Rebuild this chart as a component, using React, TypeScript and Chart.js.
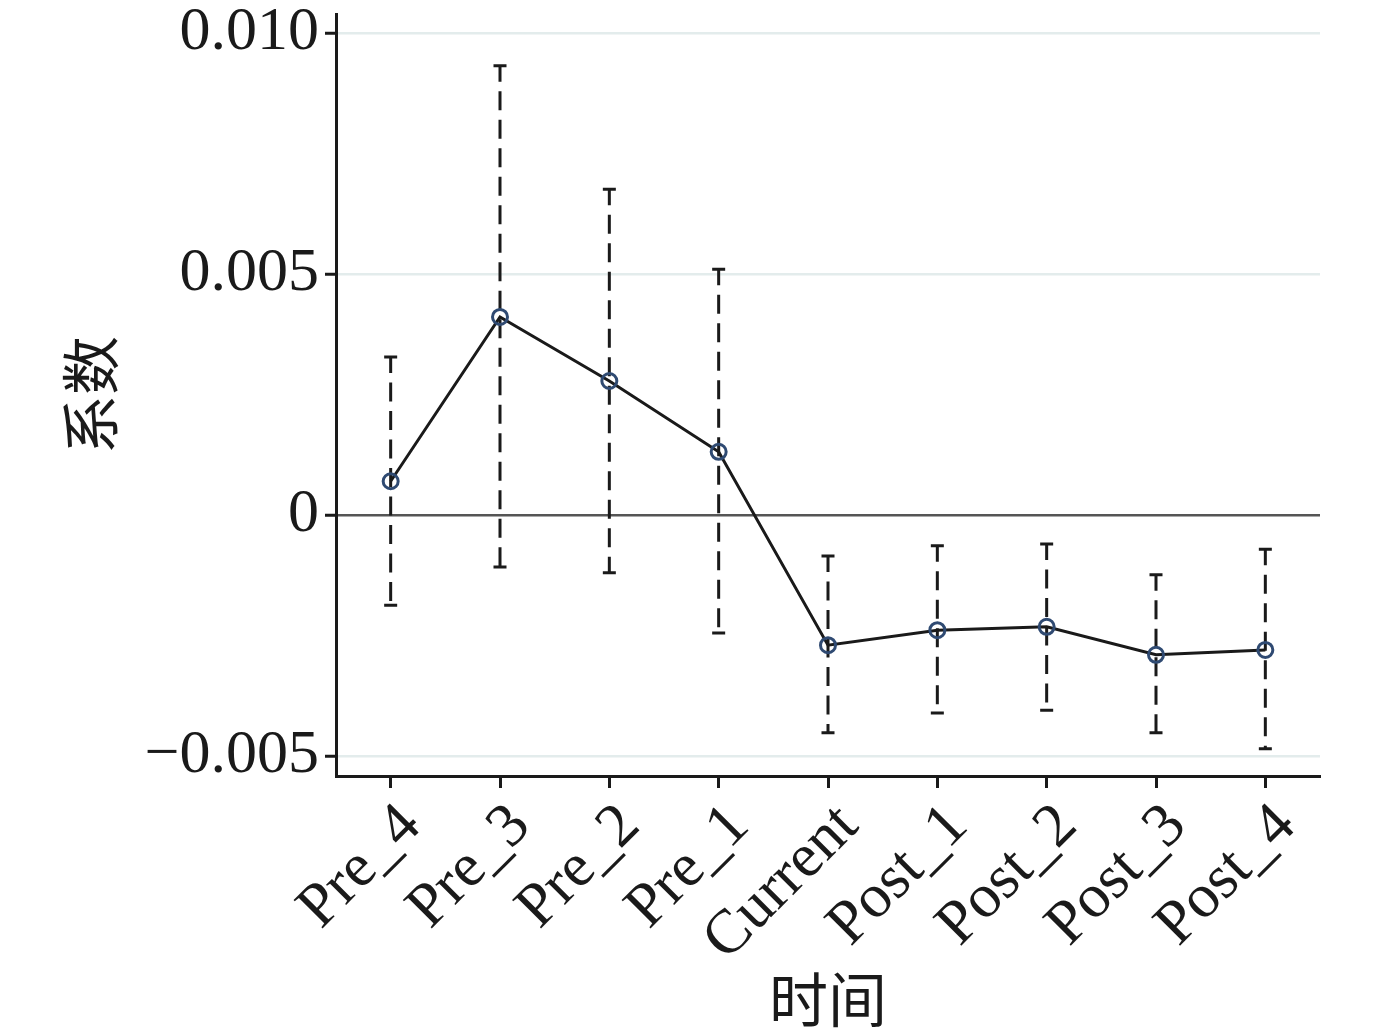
import React, { useEffect, useRef } from "react";
import { Chart, registerables } from "chart.js";

Chart.register(...registerables);

const categories = ["Pre_4", "Pre_3", "Pre_2", "Pre_1", "Current", "Post_1", "Post_2", "Post_3", "Post_4"];
const coefficients = [0.0007, 0.00411, 0.00278, 0.00131, -0.0027, -0.00239, -0.00232, -0.0029, -0.0028];
const upperCI = [0.00328, 0.00932, 0.00676, 0.0051, -0.00085, -0.00064, -0.0006, -0.00124, -0.00071];
const lowerCI = [-0.00187, -0.00108, -0.0012, -0.00245, -0.00452, -0.00411, -0.00405, -0.00452, -0.00485];
const yTickValues = [-0.005, 0, 0.005, 0.01];
const yTickLabels = ["\u22120.005", "0", "0.005", "0.010"];

const SERIF = "'Liberation Serif', 'Times New Roman', serif";
const CJK = "'Noto Sans CJK SC', sans-serif";

const errorBarPlugin = {
  id: "errorBars",
  beforeDatasetsDraw(chart: any) {
    const ctx = chart.ctx;
    const xs = chart.scales.x;
    const ys = chart.scales.y;
    ctx.save();
    ctx.strokeStyle = "#1a1a1a";
    ctx.lineWidth = 3;
    ctx.lineCap = "butt";
    for (let i = 0; i < categories.length; i++) {
      const x = xs.getPixelForValue(i);
      const yHi = ys.getPixelForValue(upperCI[i]);
      const yLo = ys.getPixelForValue(lowerCI[i]);
      ctx.setLineDash([19, 9.5]);
      ctx.lineDashOffset = 3;
      ctx.beginPath();
      ctx.moveTo(x, yHi);
      ctx.lineTo(x, yLo);
      ctx.stroke();
      ctx.setLineDash([]);
      ctx.beginPath();
      ctx.moveTo(x - 6.5, yHi);
      ctx.lineTo(x + 6.5, yHi);
      ctx.moveTo(x - 6.5, yLo);
      ctx.lineTo(x + 6.5, yLo);
      ctx.stroke();
    }
    ctx.restore();
  },
};

export default function App() {
  const ref = useRef<HTMLCanvasElement>(null);
  useEffect(() => {
    document.body.style.margin = "0";
    let chart: any = null;
    let cancelled = false;
    const build = () => {
      if (cancelled) return;
      const canvas = ref.current!;
      chart = new Chart(canvas, {
        type: "line",
        data: {
          labels: categories,
          datasets: [
            {
              data: coefficients,
              borderColor: "#1a1a1a",
              borderWidth: 3,
              pointRadius: 7.5,
              pointHoverRadius: 7.5,
              pointBorderWidth: 3,
              pointBorderColor: "#2f4a72",
              pointBackgroundColor: "rgba(0,0,0,0)",
              tension: 0,
            },
          ],
        },
        options: {
          animation: false,
          responsive: false,
          devicePixelRatio: 1,
          layout: { padding: { top: 14, right: 58, left: 0, bottom: 0 } },
          plugins: { legend: { display: false }, tooltip: { enabled: false } },
          scales: {
            x: {
              type: "category",
              offset: true,
              grid: {
                offset: false,
                drawOnChartArea: false,
                drawTicks: true,
                tickLength: 12,
                tickColor: "#1a1a1a",
                tickWidth: 3,
              },
              border: { display: true, color: "#1a1a1a", width: 3 },
              ticks: {
                minRotation: 45,
                maxRotation: 45,
                autoSkip: false,
                color: "#1a1a1a",
                padding: 2,
                labelOffset: 21,
                font: { family: SERIF, size: 62 },
              },
              title: {
                display: true,
                text: "时间",
                color: "#1a1a1a",
                font: { family: CJK, size: 59, weight: "normal" },
                padding: { top: 0, bottom: 0 },
              },
              afterFit(scale: any) {
                scale.height = 259;
                scale.paddingLeft = 0;
                scale.paddingRight = 0;
              },
            },
            y: {
              min: -0.005415,
              max: 0.010394,
              afterBuildTicks(scale: any) {
                scale.ticks = yTickValues.map((v) => ({ value: v }));
              },
              grid: {
                drawOnChartArea: true,
                drawTicks: true,
                tickLength: 11,
                tickColor: "#1a1a1a",
                tickWidth: 3,
                lineWidth: 2.5,
                color: (c: any) => (c.tick && c.tick.value === 0 ? "#555555" : "#e3ecec"),
              },
              border: { display: true, color: "#1a1a1a", width: 3 },
              ticks: {
                color: "#1a1a1a",
                padding: 6,
                font: { family: SERIF, size: 62 },
                callback: (v: any) => {
                  const idx = yTickValues.findIndex((t) => Math.abs(t - Number(v)) < 1e-9);
                  return idx >= 0 ? yTickLabels[idx] : "";
                },
              },
              title: {
                display: true,
                text: "系数",
                color: "#1a1a1a",
                font: { family: CJK, size: 59, weight: "normal" },
                padding: { top: 55, bottom: 0 },
              },
              afterFit(scale: any) {
                scale.width = 336;
                scale.paddingTop = 0;
                scale.paddingBottom = 0;
              },
            },
          },
        },
        plugins: [errorBarPlugin],
      });
    };
    const fonts: any = (document as any).fonts;
    if (fonts && fonts.load) {
      Promise.all([
        fonts.load("62px 'Liberation Serif'"),
        fonts.load("59px 'Noto Sans CJK SC'", "时间系数"),
      ])
        .catch(() => {})
        .then(build);
    } else {
      build();
    }
    return () => {
      cancelled = true;
      if (chart) chart.destroy();
    };
  }, []);
  return (
    <div style={{ width: 1378, height: 1035, background: "#fff" }}>
      <canvas ref={ref} width={1378} height={1035} style={{ display: "block" }} />
    </div>
  );
}
